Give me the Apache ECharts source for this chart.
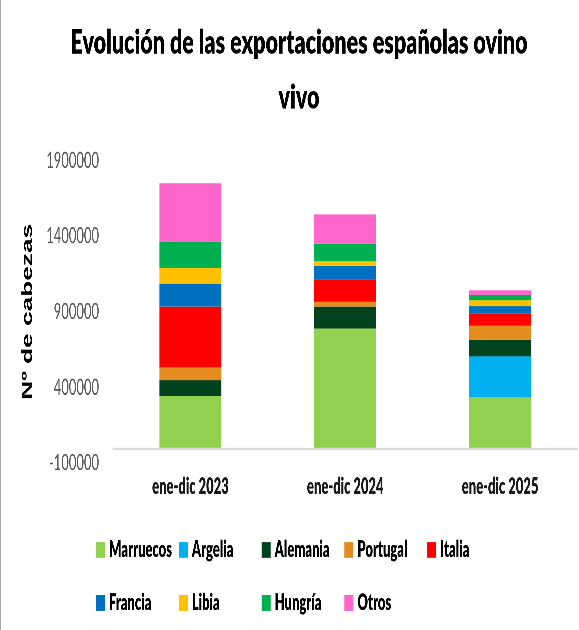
<!DOCTYPE html>
<html>
<head>
<meta charset="utf-8">
<title>Evolución de las exportaciones españolas ovino vivo</title>
<script src="https://cdn.jsdelivr.net/npm/echarts@6/dist/echarts.min.js"></script>
<style>
  html, body { margin: 0; padding: 0; background: #fff; }
  #wrap { width: 579px; height: 630px; overflow: hidden; }
  /* the original picture is stretched vertically, so the chart is drawn flat and scaled */
  #main { width: 579px; height: 360px; transform: scaleY(1.75); transform-origin: 0 0; }
</style>
</head>
<body>
<div id="wrap"><div id="main"></div></div>
<script>
const STRETCH = 1.75;
const TITLE_STRETCH = 1.55;

const categories = ['ene-dic 2023', 'ene-dic 2024', 'ene-dic 2025'];
const yTicks = [-100000, 400000, 900000, 1400000, 1900000];

const marruecos = [343000, 789000, 334000];
const argelia = [0, 0, 272000];
const alemania = [106000, 146000, 108000];
const portugal = [84000, 31000, 93000];
const italia = [402000, 145000, 82000];
const francia = [150000, 93000, 48000];
const libia = [106000, 31000, 40000];
const hungria = [172000, 115000, 35000];
const otros = [387000, 194000, 31000];

const seriesNames = ['Marruecos', 'Argelia', 'Alemania', 'Portugal', 'Italia', 'Francia', 'Libia', 'Hungría', 'Otros'];
const seriesData = [marruecos, argelia, alemania, portugal, italia, francia, libia, hungria, otros];
const colors = ['#92D050', '#00B0F0', '#02421F', '#E48C1F', '#FF0000', '#0070C0', '#FFC000', '#00B050', '#FF66CC'];

const chart = echarts.init(document.getElementById('main'), null, { renderer: 'canvas', devicePixelRatio: 3 });

// legend laid out as a 5-column grid, one legend per entry
const legends = seriesNames.map((name, i) => ({
  data: [name],
  left: 96 + (i % 5) * 82.8,
  top: (i < 5 ? 549 : 602) / STRETCH - 6,
  padding: 0,
  icon: 'rect',
  itemWidth: 9,
  itemHeight: 9,
  itemGap: 4,
  selectedMode: false,
  textStyle: {
    fontFamily: 'Lato',
    fontWeight: 800,
    fontSize: 13,
    lineHeight: 12,
    color: '#000',
    padding: [0, 0, 0, -1]
  }
}));

const titleText = (text, yRef) => ({
  type: 'text',
  x: 299,
  y: yRef / STRETCH,
  scaleY: TITLE_STRETCH / STRETCH,
  style: {
    text: text,
    fontFamily: 'Lato',
    fontWeight: 800,
    fontSize: 21.5,
    fill: '#000',
    align: 'center',
    verticalAlign: 'middle'
  }
});

const option = {
  backgroundColor: '#fff',
  color: colors,
  animation: false,
  legend: legends,
  grid: { left: 113, right: 1.5, top: 160.6 / STRETCH, bottom: (630 - 463) / STRETCH, containLabel: false },
  xAxis: {
    type: 'category',
    data: categories,
    axisLine: { onZero: true, lineStyle: { color: '#D9D9D9', width: 1.2 } },
    axisTick: { show: false },
    axisLabel: {
      margin: 7,
      fontFamily: 'Lato',
      fontWeight: 800,
      fontSize: 13,
      color: '#1a1a1a'
    }
  },
  yAxis: {
    type: 'value',
    min: -100000,
    max: 1900000,
    name: 'Nº de cabezas',
    nameLocation: 'middle',
    nameGap: 67,
    nameTextStyle: {
      fontFamily: 'Liberation Sans',
      fontWeight: 'bold',
      fontSize: 15,
      color: '#000'
    },
    axisLine: { show: false },
    axisTick: { show: false },
    splitLine: { show: false },
    axisLabel: {
      customValues: yTicks,
      margin: 14,
      fontFamily: 'Lato',
      fontSize: 13,
      color: '#595959',
      formatter: v => String(v)
    }
  },
  graphic: [
    {
      type: 'line',
      shape: { x1: 0.5, y1: 0, x2: 0.5, y2: 360 },
      style: { stroke: '#A6A6A6', lineWidth: 1.5 }
    },
    titleText('Evolución de las exportaciones españolas ovino', 43.1),
    titleText('vivo', 97.8)
  ],
  series: seriesNames.map((name, i) => ({
    name: name,
    type: 'bar',
    stack: 'total',
    barWidth: '40%',
    data: seriesData[i]
  }))
};

chart.setOption(option);
</script>
</body>
</html>
